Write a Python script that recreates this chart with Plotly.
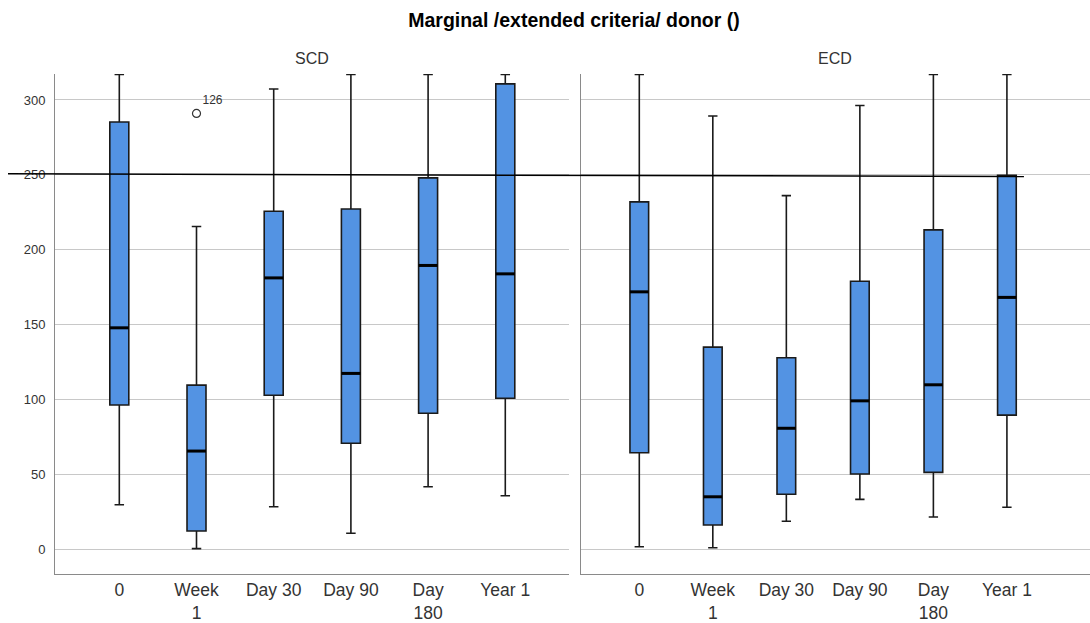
import plotly.graph_objects as go

# Time points and their axis labels
categories = ["0", "Week 1", "Day 30", "Day 90", "Day 180", "Year 1"]
tick_labels = ["0", "Week<br>1", "Day 30", "Day 90", "Day<br>180", "Year 1"]
y_ticks = [0, 50, 100, 150, 200, 250, 300]

# Standard criteria donor (SCD) box statistics
scd_lower = [30, 0.7, 28.7, 11, 42, 36]
scd_q1 = [96.5, 12.5, 103, 71, 91, 101]
scd_median = [148, 65.8, 181.3, 117.6, 189.6, 184]
scd_q3 = [285.3, 109.8, 225.8, 227.3, 248, 310.7]
scd_upper = [317, 215.6, 307.3, 317, 317, 317]

# Extended criteria donor (ECD) box statistics
ecd_lower = [2, 1.3, 19, 33.6, 21.8, 28.3]
ecd_q1 = [64.7, 16.5, 37, 50.5, 51.6, 89.8]
ecd_median = [172, 35.3, 81, 99.3, 110, 168.3]
ecd_q3 = [232, 135.1, 128, 179.1, 213.3, 249.8]
ecd_upper = [317, 289.3, 236.2, 296.3, 317, 317]

# Outlier in SCD (case id label)
outlier_category = "Week 1"
outlier_value = [291]
outlier_label = ["126"]

# Reference line (start / end values)
ref_line = [250.7, 248.9]

FONT = "Liberation Sans, Arial, sans-serif"
BOX_FILL = "#5393E3"
GRID = "#c8c8c8"
AXIS = "#8a8a8a"
TEXT = "#333333"

positions = list(range(len(categories)))

fig = go.Figure()


def add_panel(xaxis, yaxis, lower, q1, med, q3, upper, width):
    fig.add_trace(go.Box(
        x=positions, q1=q1, median=med, q3=q3,
        lowerfence=lower, upperfence=upper,
        width=width, whiskerwidth=0.5,
        fillcolor=BOX_FILL, line=dict(color="#1a1a1a", width=1.6),
        boxpoints=False, hoverinfo="skip", showlegend=False,
        xaxis=xaxis, yaxis=yaxis,
    ))
    # heavier median bars
    mx, my = [], []
    for p, m in zip(positions, med):
        mx += [p - width / 2, p + width / 2, None]
        my += [m, m, None]
    fig.add_trace(go.Scatter(
        x=mx, y=my, mode="lines", line=dict(color="black", width=3),
        hoverinfo="skip", showlegend=False, xaxis=xaxis, yaxis=yaxis,
    ))


add_panel("x", "y", scd_lower, scd_q1, scd_median, scd_q3, scd_upper, 0.246)
add_panel("x2", "y2", ecd_lower, ecd_q1, ecd_median, ecd_q3, ecd_upper, 0.254)

fig.add_trace(go.Scatter(
    x=[categories.index(outlier_category)] * len(outlier_value),
    y=outlier_value, mode="markers+text", text=outlier_label,
    textposition="top right",
    textfont=dict(family=FONT, size=12, color=TEXT),
    marker=dict(symbol="circle-open", size=8, color="#333333", line=dict(width=1.2)),
    hoverinfo="skip", showlegend=False, xaxis="x", yaxis="y",
))

# Reference line across both panels
fig.add_shape(type="line", xref="paper", yref="y",
              x0=-0.0454, x1=0.9362, y0=ref_line[0], y1=ref_line[1],
              line=dict(color="black", width=1.5), layer="above")

y_range = [-16.2, 317.3]
xa = dict(tickvals=positions, ticktext=tick_labels, showgrid=False, zeroline=False,
          showline=True, linecolor=AXIS, linewidth=1, ticks="", automargin=False,
          tickfont=dict(family=FONT, size=17.5, color=TEXT))
ya = dict(range=y_range, tickvals=y_ticks, showgrid=True, gridcolor=GRID, gridwidth=1,
          zeroline=False, showline=True, linecolor=AXIS, linewidth=1, ticks="")

fig.update_layout(
    width=1090, height=623,
    margin=dict(l=55, r=0, t=74, b=49),
    paper_bgcolor="white", plot_bgcolor="white",
    font=dict(family=FONT, color=TEXT),
    xaxis=dict(xa, domain=[0, 0.4966], range=[-0.833, 5.825]),
    xaxis2=dict(xa, domain=[0.5082, 1], range=[-0.793, 6.13], anchor="y2"),
    yaxis=dict(ya, tickfont=dict(family=FONT, size=13, color=TEXT), ticklabelstandoff=6),
    yaxis2=dict(ya, anchor="x2", showticklabels=False, matches="y"),
    title=dict(text="<b>Marginal /extended criteria/ donor ()</b>",
               xref="container", x=0.5266, y=1 - 20 / 623, yanchor="middle", xanchor="center",
               font=dict(family=FONT, size=19.5, color="black")),
    annotations=[
        dict(text="SCD", xref="paper", yref="paper", x=0.2483, y=1.03,
             xanchor="center", showarrow=False, yanchor="middle",
             font=dict(family=FONT, size=16, color=TEXT)),
        dict(text="ECD", xref="paper", yref="paper", x=0.7541, y=1.03,
             xanchor="center", showarrow=False, yanchor="middle",
             font=dict(family=FONT, size=16, color=TEXT)),
    ],
)

fig.write_html("out.html")
